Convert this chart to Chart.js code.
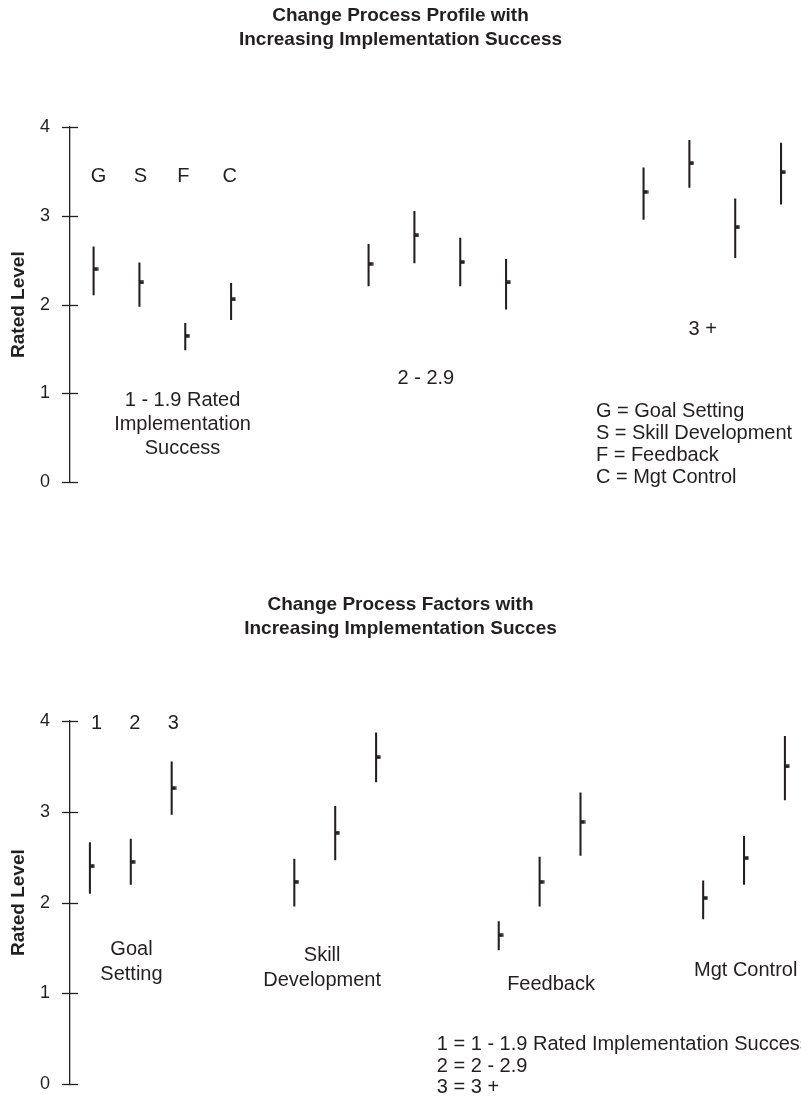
<!DOCTYPE html>
<html>
<head>
<meta charset="utf-8">
<title>Change Process Profile and Factors</title>
<script src="https://cdn.jsdelivr.net/npm/chart.js@4/dist/chart.umd.min.js"></script>
<style>
  html, body { margin: 0; padding: 0; background: #ffffff; }
  .panel { position: absolute; left: 0; width: 801px; }
  #panel1 { top: 0; height: 560px; }
  #panel2 { top: 560px; height: 555px; }
</style>
</head>
<body>
<div class="panel" id="panel1"><canvas id="profileChart"></canvas></div>
<div class="panel" id="panel2"><canvas id="factorChart"></canvas></div>

<script>
// ---------- data ----------
const factorCodes = ['G', 'S', 'F', 'C'];
const factorNames = ['Goal Setting', 'Skill Development', 'Feedback', 'Mgt Control'];
const bandNames = ['1 - 1.9', '2 - 2.9', '3 +'];
const bandNumbers = ['1', '2', '3'];
const yTicks = [0, 1, 2, 3, 4];

// Profile chart: mean rated level and range for G, S, F, C within each success band
const profileMean1 = [2.40, 2.25, 1.65, 2.06];
const profileLow1  = [2.11, 1.98, 1.49, 1.83];
const profileHigh1 = [2.65, 2.47, 1.79, 2.24];

const profileMean2 = [2.46, 2.78, 2.48, 2.25];
const profileLow2  = [2.21, 2.47, 2.21, 1.95];
const profileHigh2 = [2.68, 3.05, 2.75, 2.51];

const profileMean3 = [3.27, 3.59, 2.87, 3.49];
const profileLow3  = [2.96, 3.32, 2.53, 3.13];
const profileHigh3 = [3.54, 3.85, 3.19, 3.82];

// Factors chart: mean rated level and range for bands 1, 2, 3 within each factor
const goalMean = [2.40, 2.45, 3.26];
const goalLow  = [2.10, 2.20, 2.97];
const goalHigh = [2.66, 2.70, 3.55];

const skillMean = [2.23, 2.77, 3.60];
const skillLow  = [1.96, 2.47, 3.33];
const skillHigh = [2.48, 3.06, 3.87];

const feedbackMean = [1.64, 2.23, 2.89];
const feedbackLow  = [1.48, 1.96, 2.52];
const feedbackHigh = [1.79, 2.50, 3.21];

const controlMean = [2.05, 2.49, 3.50];
const controlLow  = [1.82, 2.20, 3.13];
const controlHigh = [2.24, 2.73, 3.83];

// ---------- styling ----------
const INK = '#231f20';
const FONT = "'Liberation Sans', Arial, Helvetica, sans-serif";

Chart.defaults.font.family = FONT;
Chart.defaults.color = INK;

// Small dash to the right of each range line marks the mean
const meanMark = document.createElement('canvas');
meanMark.width = 10;
meanMark.height = 4;
(function () {
  const c = meanMark.getContext('2d');
  c.fillStyle = INK;
  c.fillRect(5, 0.25, 4.5, 3.5);
})();

// Groups of series laid out along a linear x axis: members sit one unit apart,
// groups start every `stride` units.
function buildMarks(groups, stride) {
  const ranges = [];
  const means = [];
  groups.forEach((g, gi) => {
    g.mean.forEach((m, i) => {
      const x = gi * stride + i;
      ranges.push({ x: x, y: [g.low[i], g.high[i]] });
      means.push({ x: x, y: m });
    });
  });
  return { ranges, means };
}

// Tick marks that cross the y axis line on both sides
const crossTicks = {
  id: 'crossTicks',
  afterDraw(chart) {
    const ys = chart.scales.y;
    const ctx = chart.ctx;
    const left = chart.chartArea.left;
    ctx.save();
    ctx.strokeStyle = INK;
    ctx.lineWidth = 1.3;
    ys.ticks.forEach(t => {
      const py = Math.round(ys.getPixelForValue(t.value)) + 0.5;
      ctx.beginPath();
      ctx.moveTo(left - 8, py);
      ctx.lineTo(left + 8, py);
      ctx.stroke();
    });
    ctx.restore();
  }
};

// Free text placed in data coordinates
const chartText = {
  id: 'chartText',
  afterDatasetsDraw(chart, args, opts) {
    const ctx = chart.ctx;
    const xs = chart.scales.x;
    const ys = chart.scales.y;
    ctx.save();
    ctx.fillStyle = INK;
    ctx.font = opts.size + 'px ' + FONT;
    ctx.textBaseline = 'middle';
    (opts.items || []).forEach(it => {
      ctx.textAlign = it.align || 'center';
      const px = xs.getPixelForValue(it.x);
      const py = ys.getPixelForValue(it.y);
      it.lines.forEach((ln, i) => ctx.fillText(ln, px, py + i * (it.lineHeight || 24)));
    });
    ctx.restore();
  }
};

function makeChart(canvasId, cfg) {
  return new Chart(document.getElementById(canvasId), {
    type: 'bar',
    data: {
      datasets: [
        {
          type: 'bar',
          data: cfg.marks.ranges,
          backgroundColor: INK,
          borderWidth: 0,
          barThickness: 1.4,
          grouped: false,
          order: 2
        },
        {
          type: 'scatter',
          data: cfg.marks.means,
          pointStyle: meanMark,
          pointRadius: 2,
          pointHoverRadius: 2,
          order: 1
        }
      ]
    },
    options: {
      responsive: true,
      maintainAspectRatio: false,
      animation: false,
      devicePixelRatio: 1,
      events: [],
      layout: { padding: { left: 0, right: 0, top: 0, bottom: cfg.padBottom } },
      plugins: {
        legend: { display: false },
        tooltip: { enabled: false },
        title: {
          display: true,
          text: cfg.title,
          color: INK,
          font: { family: FONT, size: 19, weight: 'bold', lineHeight: 24 / 19 },
          padding: { top: cfg.titleTop, bottom: cfg.titleBottom }
        },
        chartText: { size: 20, items: cfg.texts }
      },
      scales: {
        x: {
          type: 'linear',
          display: false,
          offset: false,
          min: cfg.xMin,
          max: cfg.xMax
        },
        y: {
          type: 'linear',
          min: 0,
          max: 4,
          afterFit(scale) { scale.width = 70; },
          afterBuildTicks(scale) { scale.ticks = yTicks.map(v => ({ value: v })); },
          ticks: { font: { family: FONT, size: 18 }, color: INK, padding: 20 },
          grid: { drawOnChartArea: false, drawTicks: false },
          border: { color: INK, width: 1.3 },
          title: {
            display: true,
            text: 'Rated Level',
            color: INK,
            font: { family: FONT, size: 19, weight: 'bold' },
            padding: { top: 7, bottom: 0 }
          }
        }
      }
    },
    plugins: [crossTicks, chartText]
  });
}

// ---------- Change Process Profile ----------
const profileMarks = buildMarks([
  { mean: profileMean1, low: profileLow1, high: profileHigh1 },
  { mean: profileMean2, low: profileLow2, high: profileHigh2 },
  { mean: profileMean3, low: profileLow3, high: profileHigh3 }
], 6);

const codeX = [0.11, 1.02, 1.96, 2.97];
const profileTexts = factorCodes.map((c, i) => ({ x: codeX[i], y: 3.44, lines: [c] }));
profileTexts.push(
  { x: 1.94, y: 0.918, lines: [bandNames[0] + ' Rated', 'Implementation', 'Success'], lineHeight: 24 },
  { x: 7.25, y: 1.167, lines: [bandNames[1]] },
  { x: 13.29, y: 1.725, lines: [bandNames[2]] },
  { x: 10.96, y: 0.80, align: 'left', lineHeight: 22.2,
    lines: factorCodes.map((c, i) => c + ' = ' + factorNames[i]) }
);

makeChart('profileChart', {
  marks: profileMarks,
  title: ['Change Process Profile with', 'Increasing Implementation Success'],
  titleTop: 4,
  titleBottom: 75,
  padBottom: 77.7,
  xMin: -0.515,
  xMax: 15.37,
  texts: profileTexts
});

// ---------- Change Process Factors ----------
const factorMarks = buildMarks([
  { mean: goalMean, low: goalLow, high: goalHigh },
  { mean: skillMean, low: skillLow, high: skillHigh },
  { mean: feedbackMean, low: feedbackLow, high: feedbackHigh },
  { mean: controlMean, low: controlLow, high: controlHigh }
], 5);

const numberX = [0.16, 1.10, 2.04];
const factorTexts = bandNumbers.map((n, i) => ({ x: numberX[i], y: 3.975, lines: [n] }));
factorTexts.push(
  { x: 1.016, y: 1.481, lines: ['Goal', 'Setting'], lineHeight: 25 },
  { x: 5.68, y: 1.423, lines: ['Skill', 'Development'], lineHeight: 25 },
  { x: 11.28, y: 1.098, lines: [factorNames[2]] },
  { x: 16.04, y: 1.255, lines: [factorNames[3]] },
  { x: 8.485, y: 0.435, align: 'left', lineHeight: 21.3,
    lines: [
      bandNumbers[0] + ' = ' + bandNames[0] + ' Rated Implementation Success',
      bandNumbers[1] + ' = ' + bandNames[1],
      bandNumbers[2] + ' = ' + bandNames[2]
    ] }
);

makeChart('factorChart', {
  marks: factorMarks,
  title: ['Change Process Factors with', 'Increasing Implementation Succes'],
  titleTop: 33,
  titleBottom: 80,
  padBottom: 11.7,
  xMin: -0.487,
  xMax: 17.32,
  texts: factorTexts
});
</script>
</body>
</html>
